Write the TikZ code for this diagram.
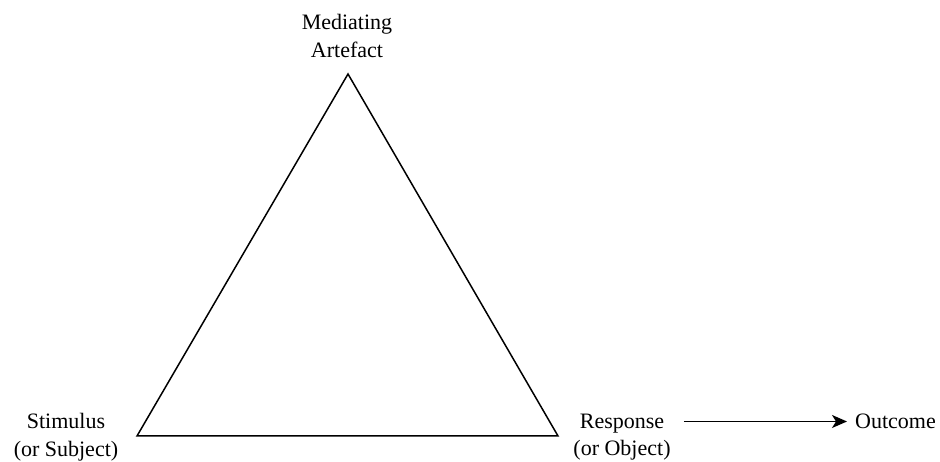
\documentclass[tikz,border=0pt]{standalone}
\usepackage{fontspec}
\setmainfont{Liberation Serif}
\usetikzlibrary{arrows.meta}
\begin{document}
\begin{tikzpicture}[x=1pt,y=1pt,
  label text/.style={inner sep=0pt, align=center, font=\fontsize{22}{27.5}\selectfont},
  edge/.style={line width=1.5pt, line join=miter},
  flow/.style={line width=1.5pt, -{Stealth[length=15pt,width=13pt,inset=4pt]}}]
  \useasboundingbox (0,0) rectangle (940,462);
  % corners of the mediation triangle
  \coordinate (apex) at (348,388);
  \coordinate (left) at (137,26);
  \coordinate (right) at (558,26);
  \draw[edge] (left) -- (apex) -- (right) -- cycle;
  % corner labels
  \node[label text] (art) at (347,426) {Mediating\\Artefact};
  \node[label text] (stim) at (66,25) {Stimulus\\(or Subject)};
  \node[label text] (resp) at (622,25) {Response\\(or Object)};
  \node[label text, anchor=west] (out) at (855,40.5) {Outcome};
  \draw[flow, shorten <=13pt, shorten >=8pt] (resp.east |- out.west) -- (out.west);
\end{tikzpicture}
\end{document}
